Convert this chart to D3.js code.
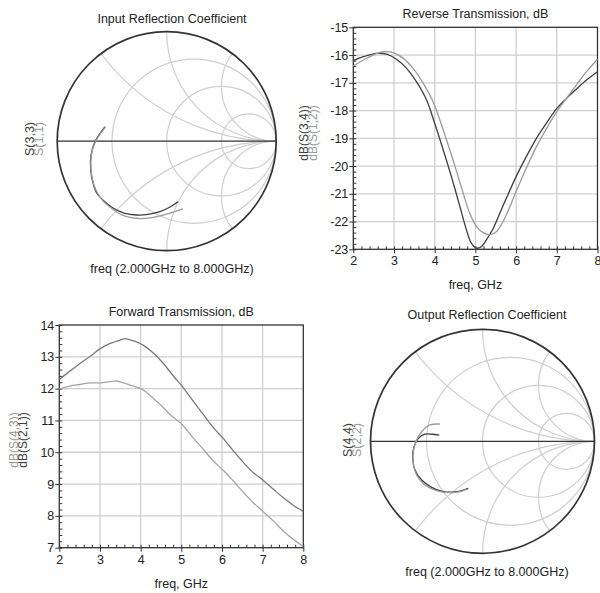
<!DOCTYPE html>
<html>
<head>
<meta charset="utf-8">
<script src="https://cdn.jsdelivr.net/npm/d3@7"></script>
<style>
  body { margin: 0; background: #fff; }
  svg { font-family: "Liberation Sans", Arial, sans-serif; }
  .title { font-size: 12.5px; fill: #222; }
  .tick text { font-size: 12.5px; fill: #222; }
</style>
</head>
<body>
<svg id="chart" width="600" height="593" viewBox="0 0 600 593"></svg>
<script>
// ---- data ----
// smith chart grid
const resistances = [1 / 3, 1, 3];
const reactances = [0.5, 1, 2];

// input reflection, [re, im] of gamma
const s33 = [[-0.563, 0.132], [-0.618, 0.057], [-0.655, -0.005], [-0.691, -0.126], [-0.694, -0.263],
  [-0.673, -0.382], [-0.639, -0.473], [-0.573, -0.546], [-0.490, -0.610], [-0.390, -0.656],
  [-0.274, -0.674], [-0.171, -0.669], [-0.061, -0.644], [0.030, -0.601], [0.103, -0.553]];
const s11 = [[-0.560, 0.128], [-0.616, 0.054], [-0.652, -0.008], [-0.688, -0.128], [-0.691, -0.265],
  [-0.668, -0.388], [-0.628, -0.480], [-0.575, -0.552], [-0.518, -0.601], [-0.445, -0.656],
  [-0.365, -0.689], [-0.262, -0.706], [-0.153, -0.701], [-0.061, -0.683], [0.030, -0.656], [0.149, -0.619]];

// output reflection
const s44 = [[-0.386, 0.056], [-0.451, 0.063], [-0.513, 0.063], [-0.573, 0.027], [-0.612, -0.048],
  [-0.623, -0.152], [-0.603, -0.256], [-0.543, -0.346], [-0.454, -0.411], [-0.350, -0.450],
  [-0.230, -0.450], [-0.127, -0.420]];
const s22 = [[-0.379, 0.154], [-0.469, 0.146], [-0.543, 0.086], [-0.588, 0.012], [-0.618, -0.093],
  [-0.618, -0.196], [-0.588, -0.301], [-0.513, -0.390], [-0.409, -0.441], [-0.290, -0.459],
  [-0.201, -0.450], [-0.147, -0.429]];

// reverse transmission, [GHz, dB]
const s34 = [[2.0, -16.2], [2.25, -16.06], [2.57, -15.94], [2.82, -15.97], [3.06, -16.15], [3.31, -16.48],
  [3.55, -16.96], [3.8, -17.62], [4.0, -18.46], [4.21, -19.42], [4.41, -20.38], [4.62, -21.46],
  [4.78, -22.3], [4.9, -22.78], [5.03, -22.96], [5.15, -22.9], [5.27, -22.66], [5.44, -22.24],
  [5.6, -21.7], [5.76, -21.16], [6.0, -20.38], [6.25, -19.66], [6.5, -19.0], [6.75, -18.44],
  [7.0, -17.92], [7.24, -17.56], [7.48, -17.23], [7.73, -16.9], [8.0, -16.6]];
const s12 = [[2.0, -16.39], [2.25, -16.18], [2.49, -16.0], [2.74, -15.88], [2.98, -15.91], [3.23, -16.12],
  [3.47, -16.48], [3.72, -17.02], [3.96, -17.68], [4.21, -18.7], [4.45, -19.78], [4.7, -20.98],
  [4.86, -21.7], [5.03, -22.18], [5.19, -22.4], [5.36, -22.48], [5.52, -22.36], [5.68, -22.0],
  [5.85, -21.46], [6.0, -20.92], [6.25, -20.08], [6.5, -19.3], [6.75, -18.64], [7.0, -18.04],
  [7.24, -17.56], [7.48, -17.08], [7.73, -16.6], [8.0, -16.15]];

// forward transmission
const s21 = [[2.0, 12.29], [2.26, 12.55], [2.51, 12.79], [2.76, 13.02], [3.0, 13.25], [3.25, 13.42],
  [3.5, 13.53], [3.62, 13.57], [3.74, 13.53], [3.91, 13.46], [4.07, 13.36], [4.32, 13.11],
  [4.56, 12.79], [4.81, 12.39], [5.02, 12.08], [5.26, 11.66], [5.51, 11.24], [5.8, 10.76],
  [6.02, 10.45], [6.29, 10.03], [6.54, 9.66], [6.78, 9.35], [7.01, 9.12], [7.28, 8.82],
  [7.52, 8.56], [7.77, 8.32], [8.0, 8.14]];
const s43 = [[2.0, 11.99], [2.26, 12.08], [2.51, 12.13], [2.76, 12.18], [3.0, 12.18], [3.25, 12.22],
  [3.41, 12.24], [3.58, 12.18], [3.74, 12.11], [4.02, 11.99], [4.24, 11.78], [4.48, 11.5],
  [4.73, 11.18], [5.02, 10.87], [5.26, 10.5], [5.55, 10.08], [5.8, 9.71], [6.02, 9.45],
  [6.29, 9.08], [6.54, 8.72], [6.78, 8.4], [7.01, 8.14], [7.28, 7.82], [7.52, 7.51],
  [7.77, 7.25], [8.0, 7.04]];

const freqTicks = [2, 3, 4, 5, 6, 7, 8];
const revTicks = [-23, -22, -21, -20, -19, -18, -17, -16, -15];
const fwdTicks = [7, 8, 9, 10, 11, 12, 13, 14];

const dark = "#3e3e3e", light = "#9a9a9a", gridCol = "#cfcfcf", frame = "#333";

const svg = d3.select("#chart");

function smith(opt) {
    const g = svg.append("g");
    const x = d3.scaleLinear().domain([-1, 1]).range([opt.cx - opt.r, opt.cx + opt.r]);
    const y = d3.scaleLinear().domain([-1, 1]).range([opt.cy + opt.r, opt.cy - opt.r]);
    const k = opt.r; // px per unit gamma

    g.append("clipPath").attr("id", opt.id)
        .append("circle").attr("cx", x(0)).attr("cy", y(0)).attr("r", k);

    const grid = g.append("g").attr("clip-path", `url(#${opt.id})`)
        .attr("fill", "none").attr("stroke", gridCol).attr("stroke-width", 1.2);

    grid.selectAll(".rc").data(resistances).enter().append("circle")
        .attr("cx", d => x(d / (1 + d))).attr("cy", y(0))
        .attr("r", d => k / (1 + d));

    const xs = reactances.flatMap(v => [v, -v]);
    grid.selectAll(".xc").data(xs).enter().append("circle")
        .attr("cx", x(1)).attr("cy", d => y(1 / d))
        .attr("r", d => k / Math.abs(d));

    g.append("line")
        .attr("x1", x(-1)).attr("x2", x(1)).attr("y1", y(0)).attr("y2", y(0))
        .attr("stroke", "#333").attr("stroke-width", 1.3);

    g.append("circle").attr("cx", x(0)).attr("cy", y(0)).attr("r", k)
        .attr("fill", "none").attr("stroke", frame).attr("stroke-width", 1.7);

    const line = d3.line().x(d => x(d[0])).y(d => y(d[1])).curve(d3.curveCatmullRom);
    opt.series.forEach(s => {
        g.append("path").datum(s.data).attr("d", line)
            .attr("fill", "none").attr("stroke", s.color).attr("stroke-width", 1.3);
    });

    g.append("text").attr("class", "title").attr("x", opt.tx).attr("y", opt.ty)
        .attr("text-anchor", "middle").attr("font-size", 13).text(opt.title);
    g.append("text").attr("class", "title").attr("x", opt.tx).attr("y", opt.by)
        .attr("text-anchor", "middle").attr("font-size", 13).text("freq (2.000GHz to 8.000GHz)");

    opt.series.forEach((s, i) => {
        g.append("text").attr("transform", `translate(${opt.lx + i * 9},${opt.ly}) rotate(-90)`)
            .attr("text-anchor", "middle").attr("font-size", 12.5).attr("fill", s.color)
            .text(s.name);
    });
}

function rect(opt) {
    const g = svg.append("g");
    const x = d3.scaleLinear().domain([2, 8]).range([opt.x0, opt.x1]);
    const y = d3.scaleLinear().domain(opt.yDomain).range([opt.y0, opt.y1]);

    // grid
    g.append("g").selectAll("line").data(freqTicks.slice(1, -1)).enter().append("line")
        .attr("x1", d => x(d)).attr("x2", d => x(d)).attr("y1", opt.y0).attr("y2", opt.y1)
        .attr("stroke", gridCol).attr("stroke-width", 1.3);
    g.append("g").selectAll("line").data(opt.yTicks.slice(1, -1)).enter().append("line")
        .attr("y1", d => y(d)).attr("y2", d => y(d)).attr("x1", opt.x0).attr("x2", opt.x1)
        .attr("stroke", gridCol).attr("stroke-width", 1.3);

    // minor ticks, inside
    const minorX = d3.range(2, 8.001, 0.2);
    const minorY = d3.range(opt.yDomain[0], opt.yDomain[1] + 0.001, 0.2);
    g.append("g").call(d3.axisBottom(x).tickValues(minorX).tickSize(-3).tickFormat(""))
        .attr("transform", `translate(0,${opt.y0})`)
        .call(a => a.select(".domain").remove())
        .selectAll("line").attr("stroke", frame);
    g.append("g").call(d3.axisLeft(y).tickValues(minorY).tickSize(-3).tickFormat(""))
        .attr("transform", `translate(${opt.x0},0)`)
        .call(a => a.select(".domain").remove())
        .selectAll("line").attr("stroke", frame);

    // major axes
    const ax = g.append("g").attr("transform", `translate(0,${opt.y0})`)
        .call(d3.axisBottom(x).tickValues(freqTicks).tickSize(4).tickPadding(3).tickFormat(d3.format("d")));
    ax.select(".domain").remove();
    ax.selectAll("line").attr("stroke", frame);
    const ay = g.append("g").attr("transform", `translate(${opt.x0},0)`)
        .call(d3.axisLeft(y).tickValues(opt.yTicks).tickSize(4).tickPadding(1).tickFormat(d => String(d).replace("\u2212", "-")));
    ay.select(".domain").remove();
    ay.selectAll("line").attr("stroke", frame);
    g.selectAll(".tick text").attr("font-family", null).attr("font-size", null);

    // frame
    g.append("rect").attr("x", opt.x0).attr("y", opt.y1)
        .attr("width", opt.x1 - opt.x0).attr("height", opt.y0 - opt.y1)
        .attr("fill", "none").attr("stroke", frame).attr("stroke-width", 1.3);

    const line = d3.line().x(d => x(d[0])).y(d => y(d[1])).curve(d3.curveCatmullRom);
    opt.series.forEach(s => {
        g.append("path").datum(s.data).attr("d", line)
            .attr("fill", "none").attr("stroke", s.color).attr("stroke-width", 1.3);
    });

    const mx = (opt.x0 + opt.x1) / 2;
    g.append("text").attr("class", "title").attr("x", mx).attr("y", opt.y1 - 9)
        .attr("text-anchor", "middle").text(opt.title);
    g.append("text").attr("class", "title").attr("x", mx).attr("y", opt.y0 + 40)
        .attr("text-anchor", "middle").attr("font-size", 12).text("freq, GHz");

    opt.labels.forEach((s, i) => {
        g.append("text").attr("transform", `translate(${opt.lx + i * 9},${opt.ly}) rotate(-90)`)
            .attr("text-anchor", "middle").attr("font-size", 12).attr("fill", s.color)
            .text(s.name);
    });
}

smith({
    id: "clipIn", cx: 166.7, cy: 141.2, r: 109.5, title: "Input Reflection Coefficient",
    tx: 172, ty: 23, by: 273, lx: 34, ly: 139,
    series: [{ name: "S(3,3)", data: s33, color: dark }, { name: "S(1,1)", data: s11, color: light }]
});

smith({
    id: "clipOut", cx: 482.5, cy: 441.3, r: 112, title: "Output Reflection Coefficient",
    tx: 487, ty: 319, by: 576, lx: 352, ly: 440,
    series: [{ name: "S(4,4)", data: s44, color: dark }, { name: "S(2,2)", data: s22, color: light }]
});

rect({
    x0: 353.3, x1: 597.5, y0: 249.3, y1: 27.3, yDomain: [-23, -15], yTicks: revTicks,
    title: "Reverse Transmission, dB", lx: 308, ly: 133,
    series: [{ data: s34, color: dark }, { data: s12, color: light }],
    labels: [{ name: "dB(S(3,4))", color: dark }, { name: "dB(S(1,2))", color: light }]
});

rect({
    x0: 59.3, x1: 303.3, y0: 547.7, y1: 325, yDomain: [7, 14], yTicks: fwdTicks,
    title: "Forward Transmission, dB", lx: 18, ly: 440,
    series: [{ data: s21, color: "#7a7a7a" }, { data: s43, color: "#a5a5a5" }],
    labels: [{ name: "dB(S(4,3))", color: light }, { name: "dB(S(2,1))", color: dark }]
});
</script>
</body>
</html>
